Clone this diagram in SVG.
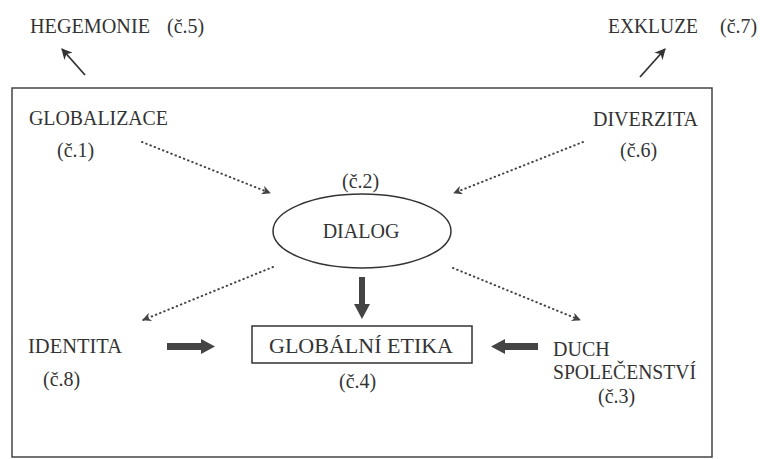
<svg xmlns="http://www.w3.org/2000/svg" width="760" height="459" viewBox="0 0 760 459" font-family="'Liberation Serif', 'Times New Roman', Times, serif" font-size="20">
<style>
  text { fill: #333; }
  .frame { fill: none; stroke: #444; stroke-width: 1.5; }
  .shape { fill: #fff; stroke: #333; stroke-width: 1.5; }
  .dot { fill: none; stroke: #444; stroke-width: 2; stroke-dasharray: 0.5 4; stroke-linecap: round; }
  .thin { fill: none; stroke: #333; stroke-width: 1.8; }
  .bold { fill: #444; stroke: none; }
</style>
<defs>
  <marker id="dhead" viewBox="0 0 10 10" refX="9" refY="5" markerWidth="11" markerHeight="9" markerUnits="userSpaceOnUse" orient="auto">
    <path d="M0,0 L10,5 L0,10 L3,5 Z" fill="#444"/>
  </marker>
  <marker id="thead" viewBox="0 0 10 10" refX="9" refY="5" markerWidth="13" markerHeight="11" markerUnits="userSpaceOnUse" orient="auto">
    <path d="M0,0 L10,5 L0,10 L3,5 Z" fill="#333"/>
  </marker>
</defs>
<rect class="frame" x="12" y="88" width="700" height="369"/>

<g id="connectors">
  <line class="thin" x1="85" y1="75" x2="62" y2="49" marker-end="url(#thead)"/>
  <line class="thin" x1="640" y1="77" x2="665" y2="49" marker-end="url(#thead)"/>
  <line class="dot" x1="142" y1="142" x2="270" y2="193" marker-end="url(#dhead)"/>
  <line class="dot" x1="583" y1="142" x2="454" y2="193" marker-end="url(#dhead)"/>
  <line class="dot" x1="273" y1="267" x2="143" y2="320" marker-end="url(#dhead)"/>
  <line class="dot" x1="453" y1="268" x2="580" y2="320" marker-end="url(#dhead)"/>
  <polygon class="bold" points="359,277 365,277 365,304 370,304 362,319 354,304 359,304"/>
  <polygon class="bold" points="167,343 201,343 201,339 215,346.5 201,354 201,350 167,350"/>
  <polygon class="bold" points="538,343 505,343 505,339 491,346.5 505,354 505,350 538,350"/>
</g>

<g id="hegemonie">
  <text x="30" y="33" textLength="120" lengthAdjust="spacingAndGlyphs">HEGEMONIE</text>
  <text x="167" y="33">(č.5)</text>
</g>
<g id="exkluze">
  <text x="608" y="33" textLength="90" lengthAdjust="spacingAndGlyphs">EXKLUZE</text>
  <text x="720" y="33">(č.7)</text>
</g>
<g id="globalizace">
  <text x="29" y="125" textLength="139" lengthAdjust="spacingAndGlyphs">GLOBALIZACE</text>
  <text x="57" y="157">(č.1)</text>
</g>
<g id="diverzita">
  <text x="593" y="126" textLength="105" lengthAdjust="spacingAndGlyphs">DIVERZITA</text>
  <text x="620" y="157">(č.6)</text>
</g>
<g id="dialog">
  <text x="342" y="188">(č.2)</text>
  <ellipse class="shape" cx="362" cy="231" rx="89" ry="37"/>
  <text x="361" y="238" text-anchor="middle">DIALOG</text>
</g>
<g id="identita">
  <text x="28" y="353" textLength="94" lengthAdjust="spacingAndGlyphs">IDENTITA</text>
  <text x="43" y="386">(č.8)</text>
</g>
<g id="globalni-etika">
  <rect class="shape" x="252" y="326" width="220" height="37"/>
  <text x="361" y="353" text-anchor="middle" textLength="184" lengthAdjust="spacingAndGlyphs">GLOBÁLNÍ ETIKA</text>
  <text x="339" y="388">(č.4)</text>
</g>
<g id="duch-spolecenstvi">
  <text x="553" y="356">DUCH</text>
  <text x="553" y="379" textLength="143" lengthAdjust="spacingAndGlyphs">SPOLEČENSTVÍ</text>
  <text x="598" y="403">(č.3)</text>
</g>
</svg>
